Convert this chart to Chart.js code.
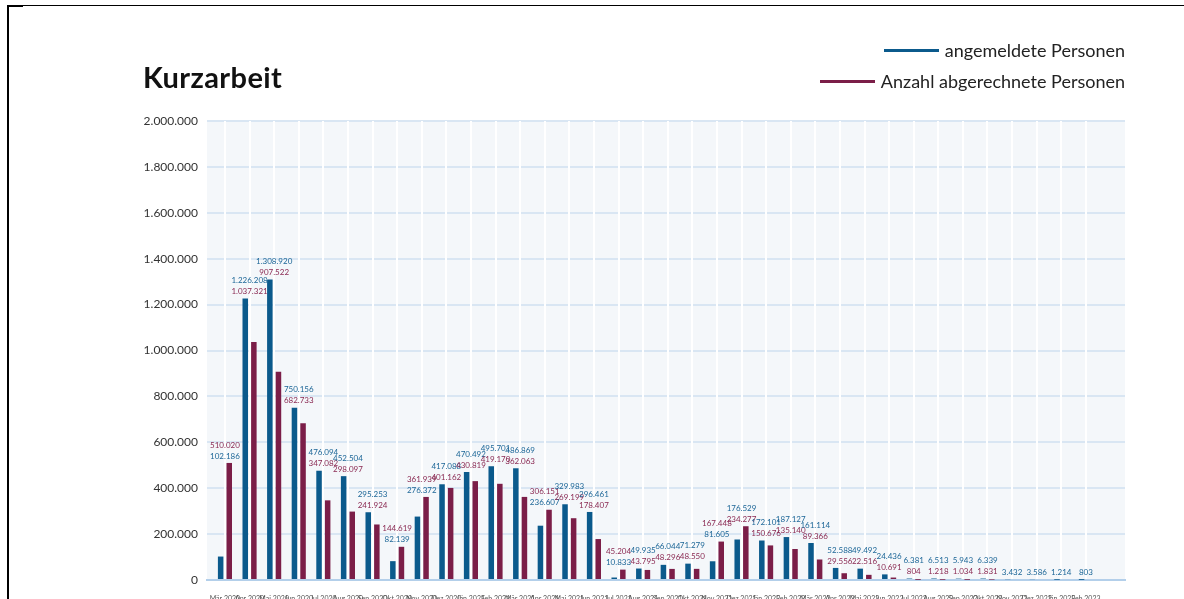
<!DOCTYPE html>
<html lang="de">
<head>
<meta charset="utf-8">
<title>Kurzarbeit</title>
<script src="https://cdn.jsdelivr.net/npm/chart.js@4.4.1/dist/chart.umd.min.js"></script>
<style>
  html, body { margin: 0; padding: 0; background: #fff; overflow: hidden; }
  #wrap { position: relative; width: 1184px; height: 599px; overflow: hidden; font-family: Lato, "Open Sans", sans-serif; }
  #chart { position: absolute; left: 0; top: 0; }
  #frame { position: absolute; left: 7px; top: 5px; right: 0; bottom: -10px; border-left: 2px solid #000; border-top: 1px solid #000; }
  #frame::before { content: ""; position: absolute; left: -2px; top: -1px; width: 16px; height: 2px; background: #000; }
  #title { position: absolute; left: 143px; top: 60px; font-size: 29px; font-weight: 700; letter-spacing: 0.4px; color: #111; line-height: 34px; }
  #legend { position: absolute; right: 59px; top: 38px; display: flex; flex-direction: column; align-items: flex-end; gap: 7px; }
  .item { display: flex; align-items: center; height: 24px; font-size: 18px; color: #222; }
  .item .line { width: 55px; height: 3px; margin-right: 6px; }
</style>
</head>
<body>
<div id="wrap">
  <canvas id="chart" width="1184" height="600"></canvas>
  <div id="frame"></div>
  <div id="title">Kurzarbeit</div>
  <div id="legend"></div>
</div>
<script>
const months = [
  "Mär 2020", "Apr 2020", "Mai 2020", "Jun 2020", "Jul 2020", "Aug 2020",
  "Sep 2020", "Okt 2020", "Nov 2020", "Dez 2020", "Jän 2021", "Feb 2021",
  "Mär 2021", "Apr 2021", "Mai 2021", "Jun 2021", "Jul 2021", "Aug 2021",
  "Sep 2021", "Okt 2021", "Nov 2021", "Dez 2021", "Jän 2022", "Feb 2022",
  "Mär 2022", "Apr 2022", "Mai 2022", "Jun 2022", "Jul 2022", "Aug 2022",
  "Sep 2022", "Okt 2022", "Nov 2022", "Dez 2022", "Jän 2023", "Feb 2023",
];

const registered = [
  102186, 1226208, 1308920, 750156, 476094, 452504,
  295253, 82139, 276372, 417088, 470492, 495701,
  486869, 236607, 329983, 296461, 10833, 49935,
  66044, 71279, 81605, 176529, 172101, 187127,
  161114, 52588, 49492, 24436, 6381, 6513,
  5943, 6339, 3432, 3586, 1214, 803,
];

const settled = [
  510020, 1037321, 907522, 682733, 347082, 298097,
  241924, 144619, 361939, 401162, 430819, 419170,
  362063, 306151, 269199, 178407, 45204, 43795,
  48296, 48550, 167448, 234277, 150676, 135140,
  89366, 29556, 22516, 10691, 804, 1218,
  1034, 1831, null, null, null, null,
];

const yTicks = [0, 200000, 400000, 600000, 800000, 1000000, 1200000, 1400000, 1600000, 1800000, 2000000];

// months where the smaller value is printed on top
const swapLabels = new Set([21]);

const BLUE = "#0b5a8c";
const RED = "#7b1e48";

function fmt(v) {
  return String(v).replace(/\B(?=(\d{3})+(?!\d))/g, ".");
}

const plotBackground = {
  id: "plotBackground",
  beforeDraw(chart) {
    const { ctx, chartArea: a } = chart;
    ctx.save();
    ctx.fillStyle = "#f4f7fa";
    ctx.fillRect(a.left, a.top, a.right - a.left, a.bottom - a.top);
    ctx.restore();
  },
};

const valueLabels = {
  id: "valueLabels",
  afterDatasetsDraw(chart) {
    const { ctx } = chart;
    const x = chart.scales.x;
    const y = chart.scales.y;
    ctx.save();
    ctx.font = "8px Lato, sans-serif";
    ctx.textAlign = "center";
    ctx.textBaseline = "middle";
    months.forEach((_, i) => {
      const pair = [
        { v: registered[i], color: "#1c6697" },
        { v: settled[i], color: "#8a2952" },
      ].filter((p) => p.v != null);
      if (!pair.length) return;
      pair.sort((a, b) => a.v - b.v);
      if (swapLabels.has(i)) pair.reverse();
      const top = y.getPixelForValue(Math.max(...pair.map((p) => p.v)));
      const cx = x.getPixelForValue(i);
      // smaller number sits right above the bars, larger one above it
      pair.forEach((p, k) => {
        ctx.fillStyle = p.color;
        ctx.fillText(fmt(p.v), cx, top - 7 - k * 11);
      });
    });
    ctx.restore();
  },
};

const datasets = [
  {
    label: "angemeldete Personen",
    data: registered.map((v, i) => ({ x: i, y: v })),
    backgroundColor: BLUE,
  },
  {
    label: "Anzahl abgerechnete Personen",
    data: settled.map((v, i) => ({ x: i, y: v })),
    backgroundColor: RED,
  },
];

const chart = new Chart(document.getElementById("chart"), {
  type: "bar",
  data: { datasets },
  options: {
    responsive: false,
    animation: false,
    devicePixelRatio: 1,
    layout: { padding: { top: 121, right: 59, bottom: 0, left: 0 } },
    categoryPercentage: 0.7,
    barPercentage: 0.64,
    plugins: {
      legend: { display: false },
      tooltip: { enabled: false },
    },
    scales: {
      y: {
        min: 0,
        max: 2000000,
        afterFit: (s) => { s.width = 207; },
        afterBuildTicks: (s) => { s.ticks = yTicks.map((v) => ({ value: v })); },
        grid: { color: "#d9e6f3", lineWidth: 2, drawTicks: false },
        border: { display: false },
        ticks: {
          padding: 9,
          color: "#333",
          font: { family: "Lato", size: 12 },
          callback: (v) => fmt(v),
        },
      },
      x: {
        type: "linear",
        offset: false,
        min: -0.73,
        max: 36.59,
        afterFit: (s) => { s.height = 20; },
        afterBuildTicks: (s) => {
          s.ticks = months.map((_, i) => ({ value: i }));
        },
        grid: { color: "#ffffff", lineWidth: 2, drawTicks: false, offset: false },
        border: { color: "#b3cfea", width: 2 },
        ticks: {
          stepSize: 1,
          autoSkip: false,
          maxRotation: 0,
          padding: 15,
          color: "#555",
          font: { family: "Lato", size: 7 },
          callback: (v) => months[v] ?? "",
        },
      },
    },
  },
  plugins: [plotBackground, valueLabels],
});

const legendEl = document.getElementById("legend");
datasets.forEach((ds) => {
  const item = document.createElement("div");
  item.className = "item";
  const line = document.createElement("span");
  line.className = "line";
  line.style.background = ds.backgroundColor;
  const text = document.createElement("span");
  text.textContent = ds.label;
  item.appendChild(line);
  item.appendChild(text);
  legendEl.appendChild(item);
});
</script>
</body>
</html>
